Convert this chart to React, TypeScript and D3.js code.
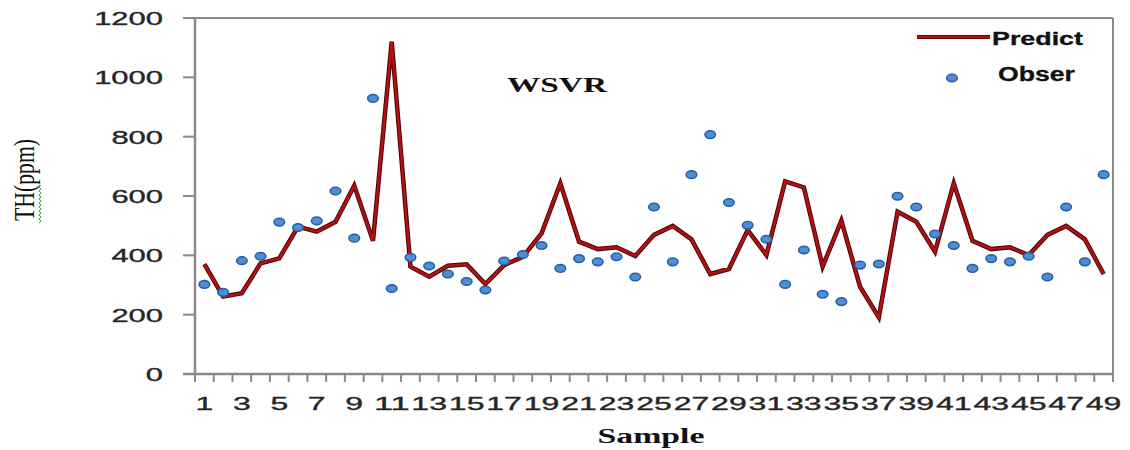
import React from "react";
import * as d3 from "d3";

const samples = d3.range(1, 50);
const predict = [370, 261, 272, 373, 390, 497, 480, 513, 635, 449, 1120, 362, 328, 365, 370, 303, 367, 395, 474, 643, 446, 421, 427, 398, 469, 499, 454, 337, 354, 485, 401, 649, 629, 362, 517, 294, 191, 547, 513, 412, 643, 449, 421, 427, 401, 469, 499, 454, 337];
const obser = [302, 275, 382, 397, 512, 494, 516, 617, 458, 929, 288, 393, 364, 337, 312, 283, 381, 403, 433, 356, 389, 378, 395, 327, 563, 378, 672, 807, 578, 501, 454, 302, 418, 269, 244, 367, 371, 599, 563, 472, 433, 356, 389, 378, 397, 327, 563, 378, 672];
const yTicks = [0, 200, 400, 600, 800, 1000, 1200];
const xLabels = samples.filter((s) => s % 2 === 1);

const W = 1130, H = 450;
const L = 195, R = 1113, T = 18, B = 374;
const AX = "#8a8a8a";
const TXT = "#262626";

export default function App() {
  const x = d3.scaleBand<number>().domain(samples).range([L, R]).paddingInner(0).paddingOuter(0);
  const y = d3.scaleLinear().domain([0, 1200]).range([B, T]);
  const cx = (s: number) => (x(s) as number) + x.bandwidth() / 2;
  const line = d3.line<number>().x((_, i) => cx(samples[i])).y((v) => y(v));
  const pathD = line(predict) || "";
  const boundaries = d3.range(0, samples.length + 1).map((i) => L + i * x.bandwidth());

  const sq: string[] = [];
  for (let i = 0; i <= 19; i++) {
    const yy = 223 - i * 2;
    const xx = 40 + (i % 2 === 0 ? -1.2 : 1.2);
    sq.push(`${i === 0 ? "M" : "L"}${xx},${yy}`);
  }

  return (
    <svg width={W} height={H} style={{ position: "absolute", left: 0, top: 0, background: "#fff" }}>
      <line x1={L} y1={T} x2={R} y2={T} stroke={AX} strokeWidth={2} />
      <line x1={R} y1={T} x2={R} y2={B} stroke={AX} strokeWidth={2} />
      <line x1={L} y1={T} x2={L} y2={B} stroke={AX} strokeWidth={2.5} />
      <line x1={L - 12} y1={B} x2={R} y2={B} stroke={AX} strokeWidth={2.5} />
      {yTicks.map((t) => (
        <g key={t}>
          <line x1={L - 12} x2={L} y1={y(t)} y2={y(t)} stroke={AX} strokeWidth={2} />
          <text
            x={163}
            y={y(t) + 7}
            textAnchor="end"
            fontFamily="Liberation Sans, Arial, sans-serif"
            fontSize={19}
            fill={TXT}
            stroke={TXT}
            strokeWidth={0.35}
            textLength={String(t).length * 17.2}
            lengthAdjust="spacingAndGlyphs"
          >
            {t}
          </text>
        </g>
      ))}
      {boundaries.map((bx, i) => (
        <line key={i} x1={bx} x2={bx} y1={B} y2={B + 8} stroke={AX} strokeWidth={2} />
      ))}
      {xLabels.map((s) => (
        <text
          key={s}
          x={cx(s)}
          y={410}
          textAnchor="middle"
          fontFamily="Liberation Sans, Arial, sans-serif"
          fontSize={19}
          fill={TXT}
          stroke={TXT}
          strokeWidth={0.35}
          textLength={String(s).length * 17.8}
          lengthAdjust="spacingAndGlyphs"
        >
          {s}
        </text>
      ))}
      <path d={pathD} fill="none" stroke="#4a0000" strokeWidth={4.5} strokeLinejoin="miter" />
      <path d={pathD} fill="none" stroke="#b01212" strokeWidth={2.6} strokeLinejoin="miter" />
      {obser.map((v, i) => (
        <ellipse key={i} cx={cx(samples[i])} cy={y(v)} rx={5.3} ry={3.8} fill="#4b8fd8" stroke="#2a5d9a" strokeWidth={1.5} />
      ))}
      <text x={557} y={92} textAnchor="middle" fontFamily="Liberation Serif, Times New Roman, serif" fontWeight="bold" fontSize={21} fill="#111" textLength={100} lengthAdjust="spacingAndGlyphs">
        WSVR
      </text>
      <line x1={917} x2={990} y1={37} y2={37} stroke="#4a0000" strokeWidth={4} />
      <line x1={917} x2={990} y1={37} y2={37} stroke="#b01212" strokeWidth={2.4} />
      <text x={992} y={45} fontFamily="Liberation Sans, Arial, sans-serif" fontWeight="bold" fontSize={18} fill="#111" stroke="#111" strokeWidth={0.3} textLength={91} lengthAdjust="spacingAndGlyphs">
        Predict
      </text>
      <ellipse cx={952} cy={78} rx={5.3} ry={3.8} fill="#4b8fd8" stroke="#2a5d9a" strokeWidth={1.5} />
      <text x={998} y={81} fontFamily="Liberation Sans, Arial, sans-serif" fontWeight="bold" fontSize={20} fill="#111" stroke="#111" strokeWidth={0.3} textLength={77} lengthAdjust="spacingAndGlyphs">
        Obser
      </text>
      <text x={651} y={443} textAnchor="middle" fontFamily="Liberation Serif, Times New Roman, serif" fontWeight="bold" fontSize={22} fill="#111" textLength={107} lengthAdjust="spacingAndGlyphs">
        Sample
      </text>
      <text transform="translate(34,180) scale(1.45,1) rotate(-90)" textAnchor="middle" fontFamily="Liberation Serif, Times New Roman, serif" fontSize={20} fill="#111" textLength={82} lengthAdjust="spacingAndGlyphs">
        TH(ppm)
      </text>
      <path d={sq.join("")} fill="none" stroke="#3aa845" strokeWidth={1} />
    </svg>
  );
}
